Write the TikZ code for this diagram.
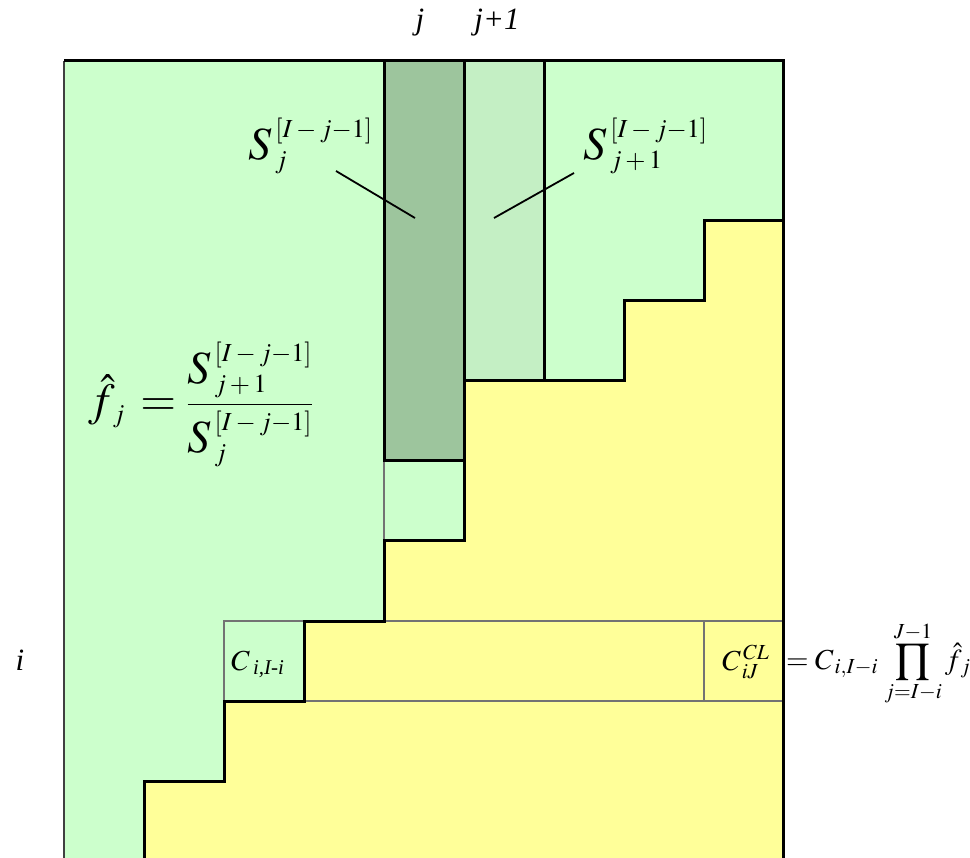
\documentclass[tikz,border=0pt]{standalone}
\usepackage{mathptmx}
\usepackage[no-math]{fontspec}
\setmainfont{Liberation Serif}
\usetikzlibrary{positioning}
\definecolor{paleGreen}{HTML}{CCFFCC}
\definecolor{paleYellow}{HTML}{FFFF99}
\definecolor{darkHatch}{HTML}{9DC59D}
\definecolor{lightHatch}{HTML}{C4EFC4}
\newcommand{\idx}[1]{\mbox{\fontsize{26}{30}\selectfont$#1$}}
\newcommand{\itsub}[2]{\mbox{\fontsize{#1}{#1}\selectfont\itshape #2}}

\begin{document}
\begin{tikzpicture}[
x=1pt, y=-1pt,
edge/.style={line width=3pt, line join=miter},
thin edge/.style={draw=black!55, line width=2pt},
leader/.style={line width=1.8pt},
biglbl/.style={inner sep=0pt, font=\fontsize{46}{55}\selectfont},
midlbl/.style={inner sep=0pt, font=\fontsize{29}{35}\selectfont},
axislbl/.style={inner sep=0pt, font=\fontsize{31}{37}\selectfont}
]
\useasboundingbox (0,0) rectangle (970,858);

\fill[paleGreen] (64,61) rectangle (783,858);
\fill[paleYellow] (783,221) -| (704,301) -| (624,381) -| (464,541) -| (384,621)
  -| (304,701) -| (224,781) -| (144,858) -- (783,858) -- cycle;
\fill[darkHatch] (384,61) rectangle (464,461);
\fill[lightHatch] (464,61) rectangle (544,381);

\draw[thin edge] (224,621) rectangle (783,701);
\draw[thin edge] (704,621) -- (704,701);
\draw[thin edge] (384,461) -- (384,541);

\draw[edge] (783,221) -| (704,301) -| (624,381) -| (464,541) -| (384,621)
  -| (304,701) -| (224,781) -| (144,858);
\draw[edge] (384,61) rectangle (464,461);
\draw[edge] (464,61) rectangle (544,381);
\draw[line width=2pt, black!75] (64,858) -- (64,61);
\draw[edge] (64,61) -- (783,61) -- (783,858);

\node[axislbl, anchor=base] (colj) at (420,30) {\itshape j};
\node[axislbl, anchor=base] (colnext) at (497,30) {\itshape j+1};
\node[axislbl, anchor=base] (rowi) at (20,670) {\itshape i};

\node[biglbl, anchor=base west] (sumj) at (248,160)
  {$S^{\,\idx{[I-j{-}1]}}_{\,\idx{j}}$};
\node[biglbl, anchor=base west] (sumnext) at (583,160)
  {$S^{\,\idx{[I-j{-}1]}}_{\,\idx{j+1}}$};
\coordinate (sumjtail) at (336,171);
\coordinate (sumjhead) at (415,218);
\coordinate (sumnexttail) at (574,173);
\coordinate (sumnexthead) at (494,218);
\draw[leader] (sumjtail) -- (sumjhead);
\draw[leader] (sumnexttail) -- (sumnexthead);

\node[biglbl, anchor=base west] (factor) at (88,416)
  {$\hat f_{\,\idx{j}}\, = {\displaystyle\frac{S^{\,\idx{[I-j{-}1]}}_{\,\idx{j+1}}}{S^{\,\idx{[I-j{-}1]}}_{\,\idx{j}}}}$};

\node[midlbl, anchor=base west] (lastcell) at (231,670)
  {$C_{\;\itsub{21}{i,I-i}}$};
\node[midlbl, anchor=base west] (ultimate) at (722,670) {$C^{\,CL}_{\,iJ}$};
\node[midlbl, anchor=base west] (chainladder) at (786,669)
  {$= C_{\,i,I-i}\,\displaystyle\prod_{j=I-i}^{J-1}\hat f_{\,j}$};

\end{tikzpicture}
\end{document}
